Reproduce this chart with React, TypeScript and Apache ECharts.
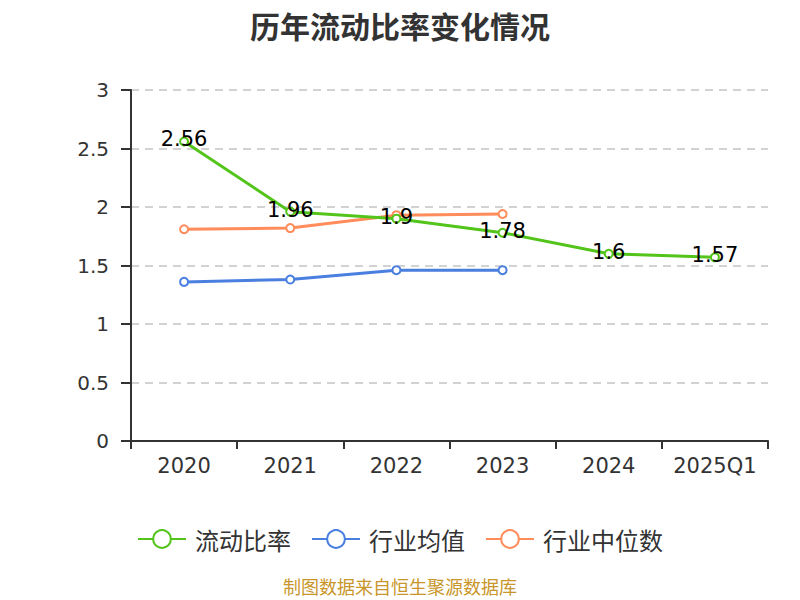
import React, { useEffect, useRef } from "react";
import * as echarts from "echarts";

const categories = ["2020", "2021", "2022", "2023", "2024", "2025Q1"];
const currentRatio = [2.56, 1.96, 1.9, 1.78, 1.6, 1.57];
const industryMean = [1.36, 1.38, 1.46, 1.46, null, null];
const industryMedian = [1.81, 1.82, 1.93, 1.94, null, null];
const yTicks = [0, 0.5, 1, 1.5, 2, 2.5, 3];

const CJK = "'Noto Sans CJK SC', sans-serif";
const NUM = "'DejaVu Sans', 'Noto Sans CJK SC', sans-serif";

export default function App() {
  const ref = useRef<HTMLDivElement>(null);
  useEffect(() => {
    document.body.style.margin = "0";
    const chart = echarts.init(ref.current!, null, { renderer: "svg" });
    const mkSeries = (name: string, data: any[], color: string, label: boolean, z: number) => ({
      name,
      type: "line",
      data,
      z,
      symbol: "emptyCircle",
      symbolSize: 8,
      itemStyle: { color },
      lineStyle: { color, width: 3 },
      label: label
        ? {
            show: true,
            position: "inside",
            offset: [0, -2],
            fontSize: 21,
            color: "#000",
            fontFamily: NUM,
          }
        : { show: false },
    });
    chart.setOption({
      animation: false,
      textStyle: { fontFamily: CJK },
      title: {
        text: "历年流动比率变化情况",
        left: "center",
        top: 5,
        textStyle: { fontSize: 30, fontWeight: "bold", color: "#333", fontFamily: CJK },
      },
      legend: {
        top: 522,
        left: "center",
        itemWidth: 48,
        itemHeight: 22,
        itemGap: 20,
        textStyle: { fontSize: 24, color: "#333", fontFamily: CJK, padding: [0, 0, 0, 4] },
        data: ["流动比率", "行业均值", "行业中位数"],
      },
      graphic: [
        {
          type: "text",
          left: "center",
          top: 577,
          style: {
            text: "制图数据来自恒生聚源数据库",
            fill: "#c8962a",
            font: `18px ${CJK}`,
          },
        },
      ],
      grid: { left: 131, right: 32, top: 90, bottom: 159 },
      xAxis: {
        type: "category",
        data: categories,
        boundaryGap: true,
        axisLine: { lineStyle: { color: "#333", width: 2 } },
        axisTick: { show: true, length: 8, interval: 0, lineStyle: { color: "#333", width: 2 } },
        axisLabel: { fontSize: 21, color: "#333", margin: 14, interval: 0, fontFamily: NUM },
      },
      yAxis: {
        type: "value",
        min: yTicks[0],
        max: yTicks[yTicks.length - 1],
        interval: 0.5,
        axisLine: { show: true, lineStyle: { color: "#333", width: 2 } },
        axisTick: { show: true, length: 10, lineStyle: { color: "#333", width: 2 } },
        axisLabel: { fontSize: 20, color: "#333", margin: 22, fontFamily: NUM },
        splitLine: { lineStyle: { color: "#c4c4c4", type: [8, 6], width: 1.5 } },
      },
      series: [
        mkSeries("流动比率", currentRatio, "#52c41a", true, 3),
        mkSeries("行业均值", industryMean, "#4a7fe0", false, 2),
        mkSeries("行业中位数", industryMedian, "#ff8c5a", false, 2),
      ],
    });
    return () => chart.dispose();
  }, []);
  return <div ref={ref} style={{ width: 800, height: 600 }} />;
}
